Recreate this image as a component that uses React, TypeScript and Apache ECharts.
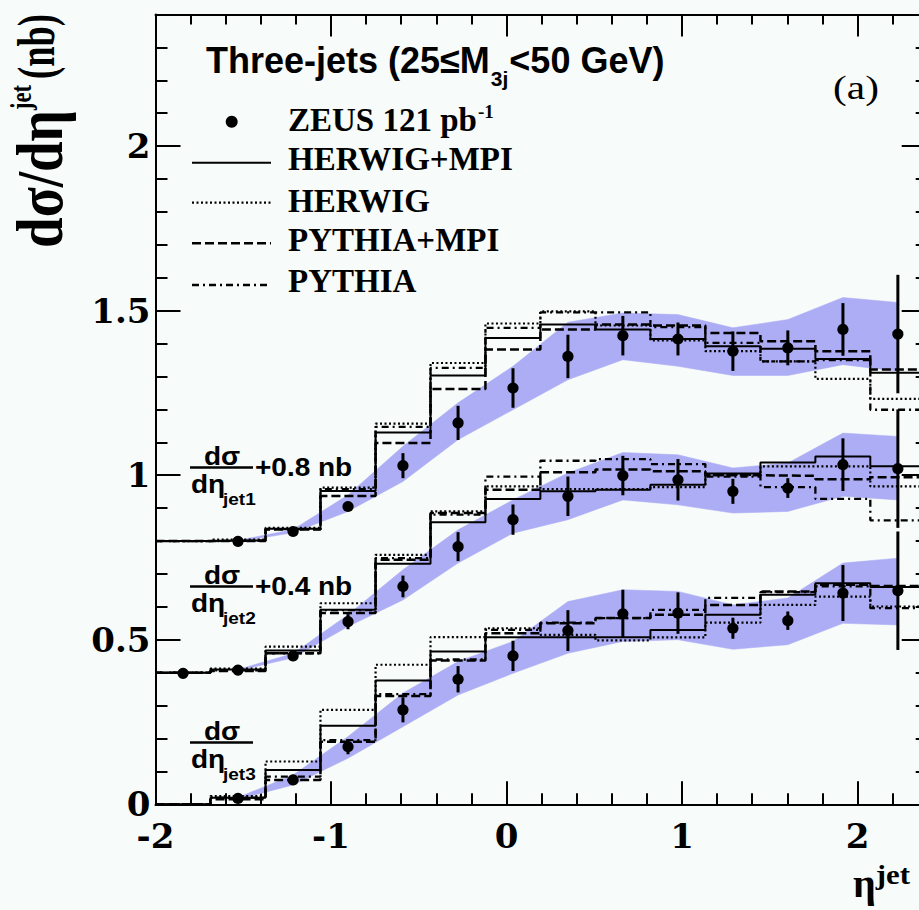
import React, { useEffect, useRef } from "react";
import * as echarts from "echarts";

// ---------- data ----------
const binEdges = [-2.0, -1.687, -1.373, -1.06, -0.746, -0.433, -0.12, 0.193, 0.507, 0.82, 1.133, 1.447, 1.76, 2.073, 2.387];
const binCenters = [-1.843, -1.53, -1.216, -0.903, -0.59, -0.276, 0.037, 0.35, 0.663, 0.977, 1.29, 1.603, 1.917, 2.23];

const xTickValues = [-2, -1, 0, 1, 2];
const xTickLabels = ["-2", "-1", "0", "1", "2"];
const yTickValues = [0, 0.5, 1, 1.5, 2];
const yTickLabels = ["0", "0.5", "1", "1.5", "2"];

// ZEUS measurements (jet1 shifted by +0.8 nb, jet2 by +0.4 nb)
const zeusJet1 = [null, 0.799, 0.829, 0.905, 1.029, 1.159, 1.265, 1.361, 1.424, 1.414, 1.377, 1.387, 1.443, 1.429];
const errJet1 = [null, 0.005, 0.006, 0.012, 0.038, 0.052, 0.06, 0.066, 0.06, 0.05, 0.06, 0.053, 0.08, 0.18];
const zeusJet2 = [0.398, 0.408, 0.451, 0.555, 0.662, 0.783, 0.865, 0.936, 0.999, 0.986, 0.951, 0.961, 1.032, 1.02];
const errJet2 = [0.004, 0.005, 0.008, 0.023, 0.033, 0.044, 0.046, 0.06, 0.06, 0.063, 0.038, 0.03, 0.08, 0.18];
const zeusJet3 = [null, 0.018, 0.074, 0.175, 0.287, 0.38, 0.451, 0.528, 0.579, 0.581, 0.535, 0.558, 0.642, 0.649];
const errJet3 = [null, 0.004, 0.008, 0.023, 0.038, 0.04, 0.046, 0.062, 0.073, 0.063, 0.032, 0.028, 0.085, 0.18];

// uncertainty bands (low / high)
const bandJet1Lo = [null, 0.798, 0.825, 0.89, 0.981, 1.108, 1.199, 1.29, 1.351, 1.331, 1.303, 1.303, 1.336, 1.316];
const bandJet1Hi = [null, 0.802, 0.835, 0.94, 1.088, 1.22, 1.331, 1.465, 1.493, 1.488, 1.448, 1.473, 1.54, 1.525];
const bandJet2Lo = [null, 0.406, 0.445, 0.54, 0.621, 0.733, 0.824, 0.865, 0.925, 0.91, 0.885, 0.89, 0.936, 0.925];
const bandJet2Hi = [null, 0.41, 0.458, 0.576, 0.713, 0.834, 0.925, 1.007, 1.069, 1.062, 1.022, 1.037, 1.128, 1.118];
const bandJet3Lo = [null, 0.015, 0.059, 0.14, 0.236, 0.332, 0.398, 0.459, 0.495, 0.5, 0.471, 0.485, 0.55, 0.545];
const bandJet3Hi = [null, 0.021, 0.089, 0.206, 0.338, 0.434, 0.495, 0.616, 0.652, 0.647, 0.606, 0.627, 0.733, 0.748];

// MC histograms (value per bin)
const herwigMpiJet1 = [0.8, 0.802, 0.837, 0.952, 1.13, 1.303, 1.417, 1.458, 1.443, 1.414, 1.392, 1.384, 1.353, 1.311];
const herwigMpiJet2 = [0.4, 0.41, 0.467, 0.591, 0.731, 0.857, 0.928, 0.951, 0.956, 0.971, 1.005, 1.039, 1.057, 1.027];
const herwigMpiJet3 = [0, 0.02, 0.104, 0.239, 0.376, 0.464, 0.508, 0.508, 0.508, 0.53, 0.576, 0.637, 0.672, 0.66];

const herwigJet1 = [0.8, 0.804, 0.84, 0.962, 1.157, 1.341, 1.461, 1.498, 1.455, 1.41, 1.377, 1.346, 1.293, 1.232];
const herwigJet2 = [0.4, 0.412, 0.479, 0.611, 0.758, 0.89, 0.966, 0.958, 0.958, 0.964, 1.001, 1.027, 1.027, 0.966];
const herwigJet3 = [0, 0.025, 0.13, 0.287, 0.424, 0.508, 0.535, 0.515, 0.498, 0.507, 0.552, 0.606, 0.631, 0.601];

const pythiaMpiJet1 = [0.8, 0.8, 0.835, 0.937, 1.098, 1.262, 1.382, 1.443, 1.458, 1.455, 1.432, 1.407, 1.377, 1.321];
const pythiaMpiJet2 = [0.4, 0.405, 0.459, 0.581, 0.743, 0.885, 0.956, 1.009, 1.017, 1.012, 1.0, 0.998, 0.988, 0.994];
const pythiaMpiJet3 = [0, 0.015, 0.074, 0.19, 0.329, 0.437, 0.52, 0.55, 0.566, 0.576, 0.606, 0.647, 0.667, 0.663];

const pythiaJet1 = [0.8, 0.801, 0.836, 0.958, 1.147, 1.326, 1.448, 1.495, 1.495, 1.45, 1.402, 1.346, 1.35, 1.199];
const pythiaJet2 = [0.4, 0.407, 0.459, 0.59, 0.748, 0.88, 0.996, 1.044, 1.049, 1.034, 0.996, 0.964, 0.928, 0.863];
const pythiaJet3 = [0, 0.02, 0.084, 0.195, 0.335, 0.44, 0.53, 0.552, 0.566, 0.591, 0.627, 0.645, 0.662, 0.596];

const legendNames = ["ZEUS 121 pb", "HERWIG+MPI", "HERWIG", "PYTHIA+MPI", "PYTHIA"];

// ---------- styles ----------
const BG = "#f7fbf9";
const BAND = "#adadf5";
const INK = "#000";
const SANS = "Liberation Sans";
const SERIF = "Liberation Serif";
const TICKFONT = "DejaVu Serif";

const STYLE_SOLID: any = { type: "solid", width: 2 };
const STYLE_DOT: any = { type: [2, 2.5], width: 2.2 };
const STYLE_DASH: any = { type: [9, 4], width: 2.5 };
const STYLE_DASHDOT: any = { type: [7, 4, 2, 4], width: 2.3 };

let measureCtx: CanvasRenderingContext2D | null = null;
function measure(text: string, size: number, family: string, weight: string) {
  if (!measureCtx) measureCtx = document.createElement("canvas").getContext("2d");
  if (!measureCtx) return text.length * size * 0.55;
  measureCtx.font = `${weight} ${size}px "${family}"`;
  return measureCtx.measureText(text).width;
}

function txt(
  text: string,
  x: number,
  base: number,
  size: number,
  family: string,
  weight = "bold",
  align = "left",
  sx = 1
): any {
  return {
    type: "text",
    x,
    y: base - 0.34 * size,
    scaleX: sx,
    silent: true,
    z: 10,
    style: {
      text,
      fill: INK,
      fontSize: size,
      fontFamily: family,
      fontWeight: weight,
      align,
      textAlign: align,
      verticalAlign: "middle",
      textVerticalAlign: "middle",
    },
  };
}

// rotated (reads bottom to top); baseX = screen x of baseline, startY = screen y where text begins
function vtxt(text: string, baseX: number, startY: number, size: number, length: number, sy: number): any {
  const w = measure(text, size, SERIF, "bold");
  return {
    type: "text",
    x: baseX - 0.34 * size * sy,
    y: startY,
    rotation: Math.PI / 2,
    scaleX: length / w,
    scaleY: sy,
    silent: true,
    z: 10,
    style: {
      text,
      fill: INK,
      fontSize: size,
      fontFamily: SERIF,
      fontWeight: "bold",
      align: "left",
      textAlign: "left",
      verticalAlign: "middle",
      textVerticalAlign: "middle",
    },
  };
}

function histSeries(vals: number[], ls: any) {
  const data: number[][] = vals.map((v, i) => [binEdges[i], v]);
  data.push([binEdges[vals.length], vals[vals.length - 1]]);
  return {
    type: "line",
    step: "end",
    data,
    showSymbol: false,
    symbol: "none",
    silent: true,
    z: 3,
    lineStyle: { color: INK, width: ls.width, type: ls.type },
    emphasis: { disabled: true },
  };
}

function bandSeries(lo: (number | null)[], hi: (number | null)[]) {
  const data: number[][] = [];
  binCenters.forEach((x, i) => {
    if (lo[i] != null && hi[i] != null) data.push([x, lo[i] as number, hi[i] as number]);
  });
  return {
    type: "custom",
    z: 1,
    silent: true,
    data,
    encode: { x: 0, y: [1, 2] },
    renderItem: (params: any, api: any) => {
      if (params.dataIndex !== 0) return null;
      const upper = data.map((d) => api.coord([d[0], d[2]]));
      const lower = data.map((d) => api.coord([d[0], d[1]])).reverse();
      return {
        type: "polygon",
        shape: { points: upper.concat(lower) },
        style: { fill: BAND, stroke: BAND, lineWidth: 0.5 },
      };
    },
  };
}

function zeusSeries(vals: (number | null)[], errs: (number | null)[]) {
  const data: number[][] = [];
  binCenters.forEach((x, i) => {
    if (vals[i] != null) data.push([x, vals[i] as number, (errs[i] as number) || 0]);
  });
  return {
    type: "custom",
    z: 5,
    silent: true,
    clip: false,
    data,
    encode: { x: 0, y: 1 },
    renderItem: (params: any, api: any) => {
      const x = api.value(0);
      const y = api.value(1);
      const e = api.value(2);
      const c = api.coord([x, y]);
      const t = api.coord([x, y + e]);
      const b = api.coord([x, y - e]);
      return {
        type: "group",
        children: [
          { type: "line", shape: { x1: c[0], y1: t[1], x2: c[0], y2: b[1] }, style: { stroke: INK, lineWidth: 3 } },
          { type: "circle", shape: { cx: c[0], cy: c[1], r: 5.6 }, style: { fill: INK } },
        ],
      };
    },
  };
}

function tickFormatter(values: number[], labels: string[]) {
  return (v: number) => {
    const i = values.findIndex((t) => Math.abs(t - v) < 1e-6);
    return i >= 0 ? labels[i] : "";
  };
}

function buildGraphics(): any[] {
  const g: any[] = [];
  // title
  const t1 = "Three-jets (25\u2264M";
  const w1 = measure(t1, 36, SANS, "bold");
  const wsub = measure("3j", 21, SANS, "bold");
  g.push(txt(t1, 206, 73, 36, SANS));
  g.push(txt("3j", 206 + w1 + 1, 86, 21, SANS));
  g.push(txt("<50 GeV)", 206 + w1 + wsub + 2, 73, 36, SANS));

  // (a)
  g.push(txt("(a)", 856, 99, 33, SERIF, "normal", "center", 1.25));

  // legend
  const lx = 288;
  g.push({ type: "circle", shape: { cx: 231.7, cy: 121.7, r: 6 }, style: { fill: INK }, silent: true, z: 10 });
  g.push(txt(legendNames[0], lx, 131.7, 33, SERIF));
  const wz = measure(legendNames[0], 33, SERIF, "bold");
  g.push(txt("-1", lx + wz + 1, 118, 19, SERIF));
  const legendRows: [string, any, number, number][] = [
    [legendNames[1], STYLE_SOLID, 162.7, 170],
    [legendNames[2], STYLE_DOT, 202.7, 212.7],
    [legendNames[3], STYLE_DASH, 243.3, 251.7],
    [legendNames[4], STYLE_DASHDOT, 285, 292],
  ];
  legendRows.forEach(([name, ls, ly, base]) => {
    g.push({
      type: "line",
      shape: { x1: 192, y1: ly, x2: 271, y2: ly },
      style: { stroke: INK, lineWidth: ls.width, lineDash: ls.type === "solid" ? null : ls.type },
      silent: true,
      z: 10,
    });
    g.push(txt(name, lx, base, 33, SERIF));
  });

  // offset annotations
  const blocks: [number, string, string][] = [
    [0, "+0.8 nb", "jet1"],
    [119, "+0.4 nb", "jet2"],
    [275, "", "jet3"],
  ];
  blocks.forEach(([dy, plus, sub]) => {
    g.push(txt("d\u03c3", 222, 465 + dy, 25, SANS, "bold", "center", 1.12));
    g.push({
      type: "line",
      shape: { x1: 190, y1: 467.5 + dy, x2: 253, y2: 467.5 + dy },
      style: { stroke: INK, lineWidth: 2.5 },
      silent: true,
      z: 10,
    });
    if (plus) g.push(txt(plus, 255, 476.5 + dy, 25, SANS, "bold", "left", 1.12));
    g.push(txt("d\u03b7", 191, 493 + dy, 25, SANS, "bold", "left", 1.12));
    g.push(txt(sub, 223, 505 + dy, 17, SANS, "bold", "left", 1.12));
  });

  // x axis title
  const we = measure("\u03b7", 40, SERIF, "bold");
  g.push(txt("\u03b7", 853, 897, 40, SERIF));
  g.push(txt("jet", 853 + we, 884, 28, SERIF, "bold", "left", 1.1));

  // y axis title
  g.push(vtxt("d\u03c3/d\u03b7", 62, 248, 54, 138, 1.2));
  g.push(vtxt("jet", 31, 110, 23, 25, 1.3));
  g.push(vtxt("(nb)", 54, 79, 52, 65, 1.0));
  return g;
}

function buildOption(): any {
  const axisLineStyle = { color: INK, width: 2 };
  const tickStyle = { color: INK, width: 2 };
  const labelFont = { color: INK, fontFamily: TICKFONT, fontWeight: "bold", fontSize: 34, lineHeight: 26 };
  const xBase = { type: "value", min: -2, max: 2.4, splitLine: { show: false }, minorTick: { show: false } };
  const yBase = { type: "value", min: 0, max: 2.4, splitLine: { show: false }, minorTick: { show: false } };

  const xAxis = [
    {
      ...xBase,
      position: "bottom",
      interval: 1,
      axisLine: { show: true, onZero: false, lineStyle: axisLineStyle },
      axisTick: { show: true, inside: true, length: 23, lineStyle: tickStyle },
      axisLabel: {
        show: true,
        showMaxLabel: false,
        margin: 19,
        ...labelFont,
        formatter: tickFormatter(xTickValues, xTickLabels),
      },
    },
    {
      ...xBase,
      position: "bottom",
      interval: 0.2,
      axisLine: { show: false, onZero: false },
      axisTick: { show: true, inside: true, length: 11, lineStyle: tickStyle },
      axisLabel: { show: false },
    },
    {
      ...xBase,
      position: "top",
      interval: 1,
      axisLine: { show: true, onZero: false, lineStyle: axisLineStyle },
      axisTick: { show: true, inside: true, length: 22, lineStyle: tickStyle },
      axisLabel: { show: false },
    },
    {
      ...xBase,
      position: "top",
      interval: 0.2,
      axisLine: { show: false, onZero: false },
      axisTick: { show: true, inside: true, length: 10, lineStyle: tickStyle },
      axisLabel: { show: false },
    },
  ];
  const yAxis = [
    {
      ...yBase,
      position: "left",
      interval: 0.5,
      axisLine: { show: true, onZero: false, lineStyle: axisLineStyle },
      axisTick: { show: true, inside: true, length: 25, lineStyle: tickStyle },
      axisLabel: {
        show: true,
        showMaxLabel: false,
        margin: 5,
        ...labelFont,
        formatter: tickFormatter(yTickValues, yTickLabels),
      },
    },
    {
      ...yBase,
      position: "left",
      interval: 0.1,
      axisLine: { show: false, onZero: false },
      axisTick: { show: true, inside: true, length: 12, lineStyle: tickStyle },
      axisLabel: { show: false },
    },
    {
      ...yBase,
      position: "right",
      interval: 0.5,
      axisLine: { show: true, onZero: false, lineStyle: axisLineStyle },
      axisTick: { show: true, inside: true, length: 26, lineStyle: tickStyle },
      axisLabel: { show: false },
    },
    {
      ...yBase,
      position: "right",
      interval: 0.1,
      axisLine: { show: false, onZero: false },
      axisTick: { show: true, inside: true, length: 12, lineStyle: tickStyle },
      axisLabel: { show: false },
    },
  ];

  const series: any[] = [
    bandSeries(bandJet1Lo, bandJet1Hi),
    bandSeries(bandJet2Lo, bandJet2Hi),
    bandSeries(bandJet3Lo, bandJet3Hi),
    histSeries(herwigMpiJet1, STYLE_SOLID),
    histSeries(herwigMpiJet2, STYLE_SOLID),
    histSeries(herwigMpiJet3, STYLE_SOLID),
    histSeries(herwigJet1, STYLE_DOT),
    histSeries(herwigJet2, STYLE_DOT),
    histSeries(herwigJet3, STYLE_DOT),
    histSeries(pythiaMpiJet1, STYLE_DASH),
    histSeries(pythiaMpiJet2, STYLE_DASH),
    histSeries(pythiaMpiJet3, STYLE_DASH),
    histSeries(pythiaJet1, STYLE_DASHDOT),
    histSeries(pythiaJet2, STYLE_DASHDOT),
    histSeries(pythiaJet3, STYLE_DASHDOT),
    zeusSeries(zeusJet1, errJet1),
    zeusSeries(zeusJet2, errJet2),
    zeusSeries(zeusJet3, errJet3),
  ];

  return {
    animation: false,
    backgroundColor: BG,
    grid: {
      left: 155.5,
      top: 14.5,
      width: 772.2,
      height: 789.8,
      containLabel: false,
      outerBoundsMode: "none",
    },
    xAxis,
    yAxis,
    series,
    graphic: buildGraphics(),
  };
}

export default function App() {
  const ref = useRef<HTMLDivElement>(null);
  useEffect(() => {
    if (!ref.current) return;
    const chart = echarts.init(ref.current, undefined, { renderer: "svg" });
    chart.setOption(buildOption());
    return () => chart.dispose();
  }, []);
  return (
    <div
      style={{
        position: "absolute",
        left: 0,
        top: 0,
        width: 919,
        height: 910,
        overflow: "hidden",
        background: BG,
      }}
    >
      <div ref={ref} style={{ width: 940, height: 910 }} />
    </div>
  );
}
